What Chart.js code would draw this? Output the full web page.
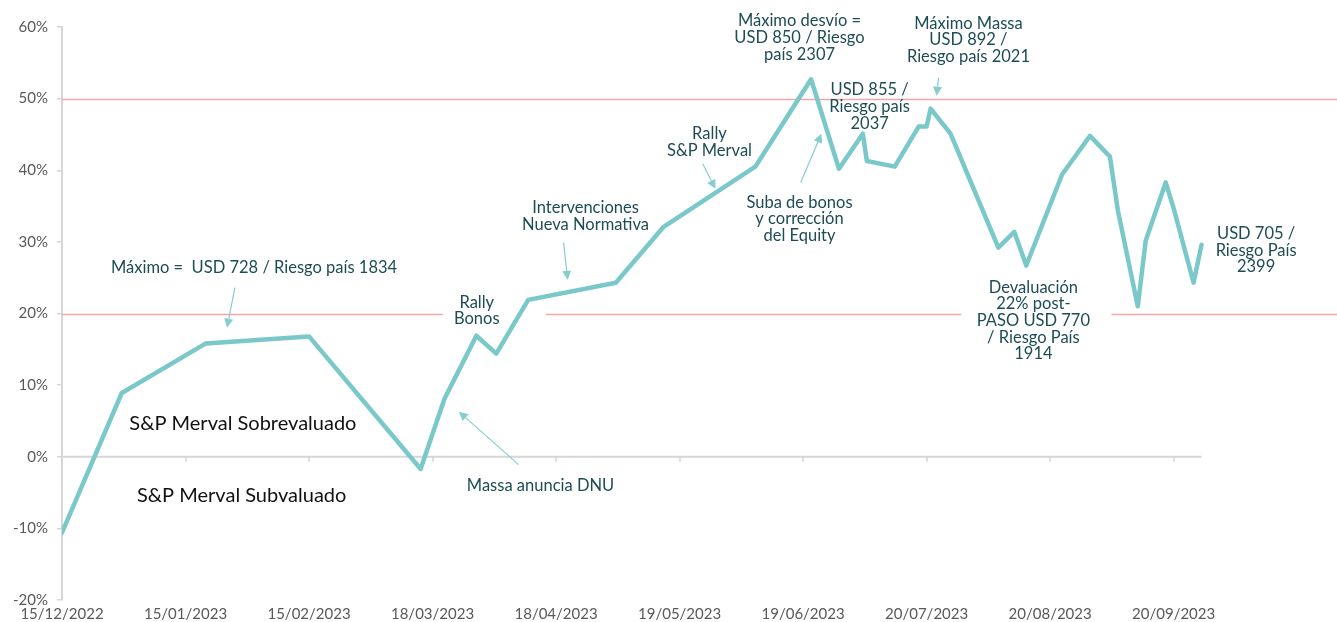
<!DOCTYPE html>
<html><head><meta charset="utf-8">
<script src="https://cdn.jsdelivr.net/npm/chart.js@4.4.1/dist/chart.umd.min.js"></script>
<style>html,body{margin:0;padding:0;background:#fff;}#wrap{width:1337px;height:622px;position:relative;}</style>
</head><body><div id="wrap"><canvas id="c"></canvas></div>
<script>
// ---- data ----
const dates = ['15/12/2022','30/12/2022','20/01/2023','15/02/2023','15/03/2023','21/03/2023','29/03/2023','03/04/2023','11/04/2023','03/05/2023','15/05/2023','07/06/2023','21/06/2023','28/06/2023','04/07/2023','05/07/2023','12/07/2023','18/07/2023','20/07/2023','21/07/2023','26/07/2023','07/08/2023','11/08/2023','14/08/2023','23/08/2023','30/08/2023','04/09/2023','06/09/2023','11/09/2023','13/09/2023','18/09/2023','20/09/2023','25/09/2023','27/09/2023'];
const desvio = [-10.6,8.9,15.8,16.8,-1.7,8.1,16.9,14.4,21.9,24.3,32.1,40.5,52.7,40.2,45.1,41.3,40.5,46.1,46.1,48.6,45.1,29.2,31.4,26.7,39.4,44.8,41.9,34.4,21.0,30.2,38.3,34.7,24.3,29.6];
const tickLabels = ['15/12/2022','15/01/2023','15/02/2023','18/03/2023','18/04/2023','19/05/2023','19/06/2023','20/07/2023','20/08/2023','20/09/2023'];
const yMin = -20, yMax = 60, yStep = 10;
const refLevels = [20, 50];

// annotations: text, position (day offset, %), arrow (from -> to), optional white box (day range)
const notes = [
  {t:['Máximo =  USD 728 / Riesgo país 1834'], x:48.2, y:26.4, arrow:[[43.4,23.6],[41.4,18.0]]},
  {t:['S&P Merval Sobrevaluado'], x:45.4, y:4.6, big:true},
  {t:['S&P Merval Subvaluado'], x:45.1, y:-5.4, big:true},
  {t:['Rally','Bonos'], x:104.1, y:20.4, box:[95.6,121.4]},
  {t:['Massa anuncia DNU'], x:120.1, y:-4.05, arrow:[[114.6,-1.1],[99.6,6.3]]},
  {t:['Intervenciones','Nueva Normativa'], x:131.4, y:33.6, arrow:[[125.9,29.9],[126.9,24.7]]},
  {t:['Rally','S&P Merval'], x:162.5, y:43.9, arrow:[[160.8,40.9],[164,37.4]]},
  {t:['Máximo desvío =','USD 850 / Riesgo','país 2307'], x:185.1, y:58.5},
  {t:['USD 855 /','Riesgo país','2037'], x:202.7, y:48.9},
  {t:['Suba de bonos','y corrección','del Equity'], x:185.1, y:33.2, arrow:[[185.4,38.3],[190.6,45.1]]},
  {t:['Máximo Massa','USD 892 /','Riesgo país 2021'], x:227.5, y:58.2, arrow:[[220,52.9],[219.5,50.4]]},
  {t:['USD 705 /','Riesgo País','2399'], x:299.7, y:28.8},
  {t:['Devaluación','22% post-','PASO USD 770','/ Riesgo País','1914'], x:243.8, y:19.0, box:[225.7,263.4]}
];

// ---- helpers ----
const FONT = 'Lato, "Open Sans", sans-serif';
const T0 = Date.UTC(2022,11,15);
function toDay(s){const [d,m,y]=s.split('/').map(Number);return (Date.UTC(y,m-1,d)-T0)/864e5;}
const points = dates.map((d,i)=>({x:toDay(d), y:desvio[i]}));
const tickDays = tickLabels.map(toDay);
const lastDay = points[points.length-1].x;

const NOTE_COLOR = '#1d4c55';
const LINE_COLOR = '#7ac8c9';
const ARROW_COLOR = '#86cdcd';
const PINK = '#f3a6a6';
const AXIS_GRAY = '#d6d6d6';
const NOTE_SIZE = 16.5, LH = 16.7;

function noteBlock(chart, n){
  const cx = chart.scales.x.getPixelForValue(n.x);
  const cy = chart.scales.y.getPixelForValue(n.y);
  const lh = n.big ? 22 : LH;
  const h = lh * n.t.length;
  return {cx, cy, lh, top: cy - h/2, bottom: cy + h/2};
}

const deco = {
  id:'deco',
  beforeDatasetsDraw(chart){
    const ctx = chart.ctx, xs = chart.scales.x, ys = chart.scales.y;
    const left = chart.chartArea.left;
    ctx.save();
    ctx.strokeStyle = PINK; ctx.lineWidth = 1.6;
    refLevels.forEach(v=>{
      const y = Math.round(ys.getPixelForValue(v))+0.5;
      ctx.beginPath(); ctx.moveTo(left, y); ctx.lineTo(chart.width, y); ctx.stroke();
    });
    ctx.fillStyle = '#fff';
    notes.forEach(n=>{
      if(!n.box) return;
      const b = noteBlock(chart, n);
      const x1 = xs.getPixelForValue(n.box[0]), x2 = xs.getPixelForValue(n.box[1]);
      ctx.fillRect(x1, b.top-2, x2-x1, b.bottom-b.top+4);
    });
    const y0 = ys.getPixelForValue(0);
    ctx.strokeStyle = AXIS_GRAY; ctx.lineWidth = 2;
    ctx.beginPath(); ctx.moveTo(xs.getPixelForValue(0), y0); ctx.lineTo(xs.getPixelForValue(lastDay), y0); ctx.stroke();
    ctx.lineWidth = 1.5;
    tickDays.forEach(d=>{
      const x = Math.round(xs.getPixelForValue(d));
      ctx.beginPath(); ctx.moveTo(x, y0); ctx.lineTo(x, y0+5); ctx.stroke();
    });
    ctx.restore();
  },
  afterDatasetsDraw(chart){
    const ctx = chart.ctx, xs = chart.scales.x, ys = chart.scales.y;
    ctx.save();
    notes.forEach(n=>{
      if(!n.arrow) return;
      const [a,b] = n.arrow;
      const x1 = xs.getPixelForValue(a[0]), y1 = ys.getPixelForValue(a[1]);
      const x2 = xs.getPixelForValue(b[0]), y2 = ys.getPixelForValue(b[1]);
      const ang = Math.atan2(y2-y1, x2-x1);
      const L = 9, W = 4.5;
      const bx = x2 - L*Math.cos(ang), by = y2 - L*Math.sin(ang);
      ctx.strokeStyle = ARROW_COLOR; ctx.fillStyle = ARROW_COLOR; ctx.lineWidth = 1.2;
      ctx.beginPath(); ctx.moveTo(x1,y1); ctx.lineTo(bx,by); ctx.stroke();
      ctx.beginPath(); ctx.moveTo(x2,y2);
      ctx.lineTo(bx + W*Math.sin(ang), by - W*Math.cos(ang));
      ctx.lineTo(bx - W*Math.sin(ang), by + W*Math.cos(ang));
      ctx.closePath(); ctx.fill();
    });
    ctx.textAlign = 'center'; ctx.textBaseline = 'middle';
    notes.forEach(n=>{
      const b = noteBlock(chart, n);
      ctx.fillStyle = n.big ? '#111' : NOTE_COLOR;
      ctx.font = (n.big ? '20px ' : NOTE_SIZE+'px ') + FONT;
      n.t.forEach((line,i)=>{
        ctx.fillText(line, b.cx, b.top + b.lh*(i+0.5));
      });
    });
    ctx.restore();
  }
};

new Chart(document.getElementById('c'), {
  type:'line',
  data:{datasets:[{data:points, borderColor:LINE_COLOR, borderWidth:4.5, pointRadius:0, pointHoverRadius:0, tension:0, fill:false, borderJoinStyle:'round', borderCapStyle:'round'}]},
  options:{
    responsive:true, maintainAspectRatio:false, animation:false,
    layout:{padding:{top:27, right:0, bottom:0, left:0}},
    plugins:{legend:{display:false}, tooltip:{enabled:false}},
    events:[],
    scales:{
      x:{type:'linear', min:0, max:320, position:'bottom',
        grid:{display:false, drawTicks:false}, border:{display:false},
        afterBuildTicks:(s)=>{ s.ticks = tickDays.map(v=>({value:v})); },
        afterFit:(s)=>{ s.height = 22; },
        ticks:{color:'#595959', font:{family:FONT, size:15}, padding:5, maxRotation:0, autoSkip:false,
          callback:(v,i)=>tickLabels[i]}
      },
      y:{min:yMin, max:yMax,
        afterFit:(s)=>{ s.width = 62; },
        grid:{drawOnChartArea:false, tickLength:5, tickColor:AXIS_GRAY, lineWidth:1.5},
        border:{display:true, color:AXIS_GRAY, width:2},
        ticks:{stepSize:yStep, color:'#595959', font:{family:FONT, size:15}, padding:9,
          callback:(v)=>v+'%'}
      }
    }
  },
  plugins:[deco]
});
</script></body></html>
